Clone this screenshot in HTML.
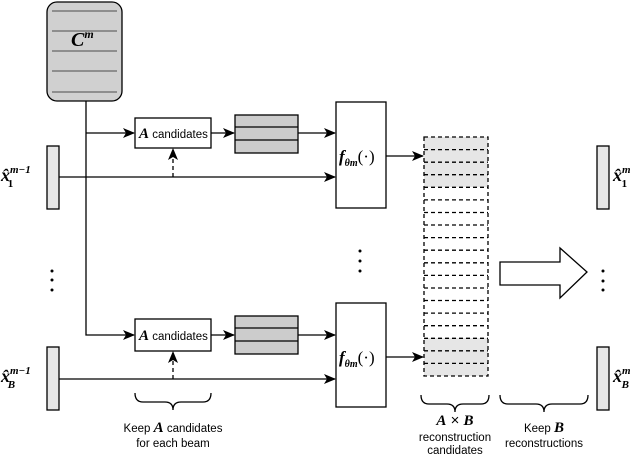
<!DOCTYPE html>
<html><head><meta charset="utf-8"><style>body{margin:0;background:#fff}svg{display:block}text{font-family:"Liberation Sans",sans-serif}.m{font-family:"Liberation Serif",serif;font-style:italic;font-weight:bold}</style></head><body>
<svg width="640" height="456" viewBox="0 0 640 456" xmlns="http://www.w3.org/2000/svg">
<defs><marker id="a" markerWidth="12" markerHeight="10" refX="11" refY="5" orient="auto" markerUnits="userSpaceOnUse"><path d="M0,0 L12,5 L0,10 L3,5z" fill="#000"/></marker></defs>
<g stroke="#000" stroke-width="1.3" fill="none">
<rect x="47" y="2" width="75" height="99" rx="10" fill="#d0d0d0"/>
<g stroke="#666"><line x1="52" y1="11" x2="117" y2="11"/><line x1="52" y1="31" x2="117" y2="31"/><line x1="52" y1="51" x2="117" y2="51"/><line x1="52" y1="71" x2="117" y2="71"/><line x1="52" y1="92" x2="117" y2="92"/></g>
<path d="M86,101 V335 H134" marker-end="url(#a)"/>
<line x1="86" y1="133" x2="134" y2="133" marker-end="url(#a)"/>
<rect x="135" y="118" width="76" height="30" fill="#fff"/>
<rect x="135" y="319" width="76" height="32" fill="#fff"/>
<line x1="211" y1="133" x2="234" y2="133" marker-end="url(#a)"/>
<line x1="211" y1="335" x2="234" y2="335" marker-end="url(#a)"/>
<rect x="235" y="115" width="63" height="38" fill="#cccccc"/><line x1="235" y1="127" x2="298" y2="127"/><line x1="235" y1="140" x2="298" y2="140"/>
<rect x="235" y="316" width="63" height="38" fill="#cccccc"/><line x1="235" y1="328" x2="298" y2="328"/><line x1="235" y1="341" x2="298" y2="341"/>
<line x1="298" y1="133" x2="335" y2="133" marker-end="url(#a)"/>
<line x1="298" y1="335" x2="335" y2="335" marker-end="url(#a)"/>
<rect x="47" y="146" width="12" height="63" fill="#e6e6e6"/>
<rect x="47" y="347" width="12" height="63" fill="#e6e6e6"/>
<line x1="59" y1="177" x2="335" y2="177" marker-end="url(#a)"/>
<line x1="59" y1="379" x2="335" y2="379" marker-end="url(#a)"/>
<line x1="173" y1="177" x2="173" y2="149" stroke-dasharray="4,3" marker-end="url(#a)"/>
<line x1="173" y1="379" x2="173" y2="352" stroke-dasharray="4,3" marker-end="url(#a)"/>
<rect x="336" y="102" width="50" height="106" fill="#fff"/>
<rect x="336" y="303" width="50" height="104" fill="#fff"/>
<line x1="386" y1="156" x2="423" y2="156" marker-end="url(#a)"/>
<line x1="386" y1="357" x2="423" y2="357" marker-end="url(#a)"/>
<rect x="424" y="137" width="64" height="50" fill="#e6e6e6" stroke="none"/>
<rect x="424" y="338" width="64" height="38" fill="#e6e6e6" stroke="none"/>
<g stroke-dasharray="4,3">
<rect x="424" y="137" width="64" height="239"/>
<path d="M424,149.6H488M424,162.2H488M424,174.7H488M424,187.3H488M424,199.9H488M424,212.5H488M424,225H488M424,237.6H488M424,250.2H488M424,262.8H488M424,275.4H488M424,288H488M424,300.5H488M424,313.1H488M424,325.7H488M424,338.3H488M424,350.8H488M424,363.4H488"/>
</g>
<path d="M500,262 H560 V248 L587,272 L560,298 V285 H500 Z" fill="#fff"/>
<rect x="597" y="146" width="12" height="63" fill="#e6e6e6"/>
<rect x="597" y="347" width="12" height="63" fill="#e6e6e6"/>
<path d="M135,393 q0,9 8,9 h22 q8,0 8,8 q0,-8 8,-8 h22 q8,0 8,-9"/>
<path d="M421,395 q0,9 8,9 h18 q8,0 8,8 q0,-8 8,-8 h18 q8,0 8,-9"/>
<path d="M500,395 q0,9 8,9 h28 q8,0 8,8 q0,-8 8,-8 h28 q8,0 8,-9"/>
</g>
<g fill="#000">
<circle cx="52" cy="271" r="1.5"/><circle cx="52" cy="280" r="1.5"/><circle cx="52" cy="290" r="1.5"/>
<circle cx="360" cy="251" r="1.5"/><circle cx="360" cy="261" r="1.5"/><circle cx="360" cy="271" r="1.5"/>
<circle cx="603" cy="271" r="1.5"/><circle cx="603" cy="281" r="1.5"/><circle cx="603" cy="290" r="1.5"/>
</g>
<text x="71" y="46" class="m" font-size="20">C<tspan font-size="12" dy="-8">m</tspan></text>
<text x="139" y="138" font-size="11.5"><tspan class="m" font-size="15">A</tspan> candidates</text>
<text x="139" y="340" font-size="11.5"><tspan class="m" font-size="15">A</tspan> candidates</text>
<text x="339" y="162" class="m" font-size="17">f<tspan font-size="10" dy="4">θm</tspan><tspan dy="-4" font-style="normal" font-weight="normal">(·)</tspan></text>
<text x="339" y="363" class="m" font-size="17">f<tspan font-size="10" dy="4">θm</tspan><tspan dy="-4" font-style="normal" font-weight="normal">(·)</tspan></text>
<text x="1" y="181" class="m" font-size="18">x̂<tspan font-size="11" dy="-8">m−1</tspan><tspan font-size="11" dx="-23" dy="14" font-style="normal">1</tspan></text>
<text x="1" y="382" class="m" font-size="18">x̂<tspan font-size="11" dy="-8">m−1</tspan><tspan font-size="11" dx="-23" dy="14">B</tspan></text>
<text x="613" y="181" class="m" font-size="18">x̂<tspan font-size="11" dy="-8">m</tspan><tspan font-size="11" dx="-9" dy="14" font-style="normal">1</tspan></text>
<text x="613" y="382" class="m" font-size="18">x̂<tspan font-size="11" dy="-8">m</tspan><tspan font-size="11" dx="-9" dy="14">B</tspan></text>
<text x="173" y="432" font-size="11.5" text-anchor="middle">Keep <tspan class="m" font-size="15">A</tspan> candidates</text>
<text x="173" y="447" font-size="11.5" text-anchor="middle">for each beam</text>
<text x="455" y="425" font-size="15" text-anchor="middle"><tspan class="m">A</tspan> × <tspan class="m">B</tspan></text>
<text x="455" y="441" font-size="11.5" text-anchor="middle">reconstruction</text>
<text x="455" y="454" font-size="11.5" text-anchor="middle">candidates</text>
<text x="544" y="432" font-size="11.5" text-anchor="middle">Keep <tspan class="m" font-size="15">B</tspan></text>
<text x="544" y="447" font-size="11.5" text-anchor="middle">reconstructions</text>
</svg>
</body></html>
